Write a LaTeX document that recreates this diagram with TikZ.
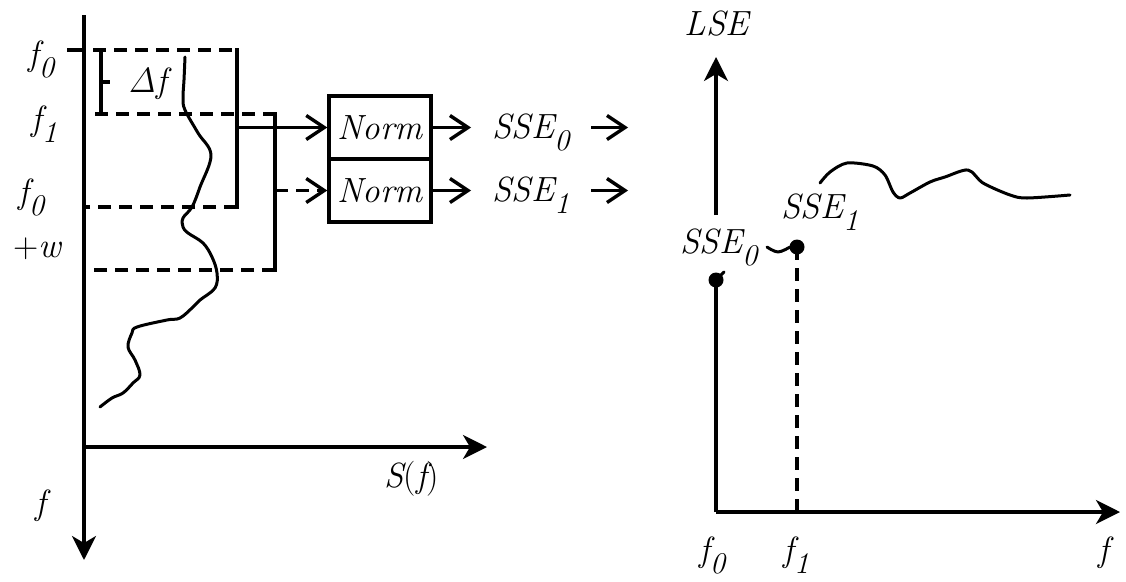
\documentclass[tikz,border=0pt]{standalone}
\usepackage{fontspec}
\usetikzlibrary{arrows.meta}
\newcommand{\sbs}[1]{\raisebox{-12pt}{\fontsize{30}{30}\selectfont #1}}
\begin{document}
\begin{tikzpicture}[x=1pt,y=-1pt,line width=3.4pt,
  font=\fontsize{35}{40}\selectfont\itshape,
  lbl/.style={inner sep=0pt,anchor=base west},
  normbox/.style={draw,minimum width=102pt,minimum height=63pt,inner sep=0pt},
  axarr/.style={-{Stealth[length=24pt,width=24pt,inset=7pt]}},
  arr/.style={-{Straight Barb[length=18pt,width=24pt]}},
  dsh/.style={dash pattern=on 13pt off 8pt},
  dot/.style={circle,fill,inner sep=0pt,minimum size=15pt},
  curve/.style={line width=3pt,line join=round,line cap=round}]
\useasboundingbox (0,0) rectangle (1126,581);
% ---------- left axes ----------
\coordinate (ltop) at (84,15);
\coordinate (lo) at (84,447);
\coordinate (lbot) at (84,560);
\coordinate (lx) at (487,447);
\draw[axarr] (ltop) -- (lbot);
\draw[axarr] (lo) -- (lx);
\coordinate (t0) at (67,50);
\draw (t0) -- (t0 -| ltop);
% brackets
\coordinate (a0) at (93,50);
\coordinate (a1) at (237,50);
\coordinate (a2) at (237,207);
\coordinate (a3) at (84,207);
\coordinate (b0) at (95,114);
\coordinate (b1) at (275,114);
\coordinate (b2) at (275,270);
\coordinate (b3) at (84,270);
\draw[dsh] (a0) -- (a1);
\draw[line cap=rect] (a1) -- (a2);
\draw[dsh] (a2) -- (a3);
\draw[dsh] (b0) -- (b1);
\draw[line cap=rect] (b1) -- (b2);
\draw[dsh] (b2) -- (b3);
% delta f bracket
\coordinate (d0a) at (101,50);
\coordinate (d0b) at (101,114);
\coordinate (dm) at (101,82);
\draw (a0) -- (d0a) -- (d0b) -- (b0);
\draw (dm) -- ++(9,0);
% spectrum curve
\draw[curve] plot[smooth,tension=0.6] coordinates {(185,57) (184,80) (183,98) (185,110) (198,133) (211,155) (200,187) (192,207) (183,218) (183,227) (188,233) (203,243) (212,257) (217,273) (215,288) (200,300) (193,307) (180,318) (167,320) (137,327) (132,333) (128,347) (135,360) (140,375) (133,383) (123,393) (112,398) (100,407)};
% labels left
\node[lbl] (lf0) at (27,65) {f\sbs{0}};
\node[lbl] (lf1) at (30,130) {f\sbs{1}};
\node[lbl] (lf0w) at (17,203) {f\sbs{0}};
\node[lbl] (lw) at (12,257) {{\upshape+}w};
\node[lbl] (ldf) at (127,92) {Δf};
\node[lbl] (lsf) at (383,487) {S{\upshape(}f{\upshape)}};
\node[lbl] (lf) at (34,514) {f};
% norm boxes
\node[normbox] (n1) at (380,127.5) {Norm};
\node[normbox] (n2) at (380,190.5) {Norm};
\draw[arr] (n1.west -| a1) -- (n1.west);
\draw[arr,dsh] (n2.west -| b1) -- (n2.west);
\node[lbl,inner xsep=20pt] (s0) at (471,138) {SSE\sbs{0}};
\node[lbl,inner xsep=20pt] (s1) at (471,201) {SSE\sbs{1}};
\draw[arr] (n1.east) -- (s0.west |- n1.east);
\draw[arr] (n2.east) -- (s1.west |- n2.east);
\coordinate (e0) at (628,127.5);
\coordinate (e1) at (628,190.5);
\draw[arr] (s0.east |- n1.east) -- (e0);
\draw[arr] (s1.east |- n2.east) -- (e1);
% ---------- right axes ----------
\coordinate (ro) at (716,512);
\coordinate (rtop) at (716,57);
\coordinate (rx) at (1120,512);
\coordinate (rgap) at (716,215);
\draw[axarr] (rgap) -- (rtop);
\draw[axarr] (ro) -- (rx);
\node[dot] (p0) at (716,280) {};
\node[dot] (p1) at (797,247) {};
\draw (ro) -- (p0.center);
\draw[dsh] (p1.center) -- (p1 |- ro);
\draw[curve] (p0.center) -- ++(8,-8);
\draw[curve] plot[smooth,tension=0.6] coordinates {(767,247) (778,252) (790,247)};
\draw[curve] plot[smooth,tension=0.5] coordinates {(820,183) (830,172) (847,163) (873,166) (885,175) (893,192) (900,198) (910,193) (930,182) (945,177) (968,170) (983,183) (1010,195) (1027,198) (1070,195)};
\node[lbl] (rlse) at (683,35) {LSE};
\node[lbl] (rs0) at (679,253) {SSE\sbs{0}};
\node[lbl] (rs1) at (780,218) {SSE\sbs{1}};
\node[lbl] (rf0) at (698,561) {f\sbs{0}};
\node[lbl] (rf1) at (782,561) {f\sbs{1}};
\node[lbl] (rf) at (1097,561) {f};
\end{tikzpicture}
\end{document}
